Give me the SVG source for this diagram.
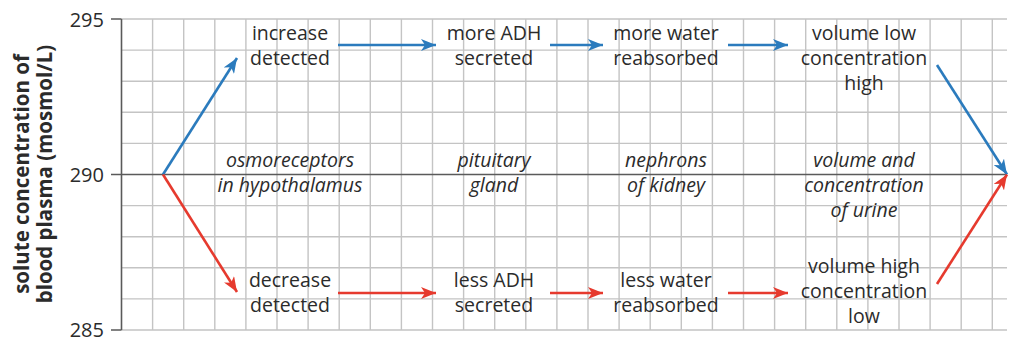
<svg xmlns="http://www.w3.org/2000/svg" width="1012" height="341" viewBox="0 0 1012 341">
<defs>
<style>
.grid{stroke:#c4c4c4;stroke-width:1.4;fill:none}
.axis{stroke:#5a5a5a;stroke-width:1.6;fill:none}
.lbl{font-family:"Open Sans","Liberation Sans",sans-serif;font-size:19.5px;fill:#2b2b2b;text-anchor:middle}
.it{font-style:italic}
.tick{font-family:"Open Sans","Liberation Sans",sans-serif;font-size:20px;fill:#2b2b2b;text-anchor:end}
.ylab{font-family:"Open Sans","Liberation Sans",sans-serif;font-size:20.5px;font-weight:bold;fill:#2b2b2b;text-anchor:middle}
.blue{stroke:#2b7bbd;stroke-width:2.6;fill:none;marker-end:url(#hb)}
.red{stroke:#e63a2e;stroke-width:2.6;fill:none;marker-end:url(#hr)}
</style>
<marker id="hb" markerUnits="userSpaceOnUse" markerWidth="16" markerHeight="12" viewBox="0 0 16 12" refX="15" refY="6" orient="auto">
<path d="M0,0 L15,6 L0,12 L4,6 z" fill="#2b7bbd"/>
</marker>
<marker id="hr" markerUnits="userSpaceOnUse" markerWidth="16" markerHeight="12" viewBox="0 0 16 12" refX="15" refY="6" orient="auto">
<path d="M0,0 L15,6 L0,12 L4,6 z" fill="#e63a2e"/>
</marker>
</defs>
<rect width="1012" height="341" fill="#ffffff"/>
<g id="grid">
<path class="grid" d="M152.6,19V330M183.7,19V330M214.8,19V330M245.9,19V330M277,19V330M308.1,19V330M339.2,19V330M370.3,19V330M401.4,19V330M432.5,19V330M463.6,19V330M494.7,19V330M525.8,19V330M556.9,19V330M588,19V330M619.1,19V330M650.2,19V330M681.3,19V330M712.4,19V330M743.5,19V330M774.6,19V330M805.7,19V330M836.8,19V330M867.9,19V330M899,19V330M930.1,19V330M961.2,19V330M992.3,19V330"/>
<path class="grid" d="M121.5,19H1007M121.5,50.1H1007M121.5,81.2H1007M121.5,112.3H1007M121.5,143.4H1007M121.5,205.6H1007M121.5,236.7H1007M121.5,267.8H1007M121.5,298.9H1007M121.5,330H1007"/>
</g>
<g id="axes">
<path class="axis" d="M121.5,19V330M111,19H121.5M111,330H121.5M111,174.5H1007"/>
<text class="tick" x="104" y="26.5">295</text>
<text class="tick" x="104" y="182">290</text>
<text class="tick" x="104" y="336.5">285</text>
<text class="ylab" transform="translate(29,174) rotate(-90)">solute concentration of</text>
<text class="ylab" transform="translate(52,174) rotate(-90)">blood plasma (mosmol/L)</text>
</g>
<g id="n-increase"><text class="lbl" x="290" y="40">increase</text><text class="lbl" x="290" y="65">detected</text></g>
<g id="n-moreadh"><text class="lbl" x="494" y="40">more ADH</text><text class="lbl" x="494" y="65">secreted</text></g>
<g id="n-morewater"><text class="lbl" x="666" y="40">more water</text><text class="lbl" x="666" y="65">reabsorbed</text></g>
<g id="n-vollow"><text class="lbl" x="864" y="40">volume low</text><text class="lbl" x="864" y="65">concentration</text><text class="lbl" x="864" y="90">high</text></g>
<g id="n-osmo"><text class="lbl it" x="290" y="167">osmoreceptors</text><text class="lbl it" x="290" y="192">in hypothalamus</text></g>
<g id="n-pituitary"><text class="lbl it" x="494" y="167">pituitary</text><text class="lbl it" x="494" y="192">gland</text></g>
<g id="n-nephrons"><text class="lbl it" x="666" y="167">nephrons</text><text class="lbl it" x="666" y="192">of kidney</text></g>
<g id="n-urine"><text class="lbl it" x="864" y="167">volume and</text><text class="lbl it" x="864" y="192">concentration</text><text class="lbl it" x="864" y="217">of urine</text></g>
<g id="n-decrease"><text class="lbl" x="290" y="287">decrease</text><text class="lbl" x="290" y="312">detected</text></g>
<g id="n-lessadh"><text class="lbl" x="494" y="287">less ADH</text><text class="lbl" x="494" y="312">secreted</text></g>
<g id="n-lesswater"><text class="lbl" x="666" y="287">less water</text><text class="lbl" x="666" y="312">reabsorbed</text></g>
<g id="n-volhigh"><text class="lbl" x="864" y="273">volume high</text><text class="lbl" x="864" y="298">concentration</text><text class="lbl" x="864" y="323">low</text></g>
<g id="connectors">
<path class="blue" d="M163,174.5L237,58"/>
<path class="blue" d="M338,45H436"/>
<path class="blue" d="M550,45H603"/>
<path class="blue" d="M728,45H788"/>
<path class="blue" d="M937,65L1007,174.5"/>
<path class="red" d="M163,174.5L237,292"/>
<path class="red" d="M338,293H436"/>
<path class="red" d="M550,293H603"/>
<path class="red" d="M728,293H788"/>
<path class="red" d="M937,284L1007,174.5"/>
</g>
</svg>
